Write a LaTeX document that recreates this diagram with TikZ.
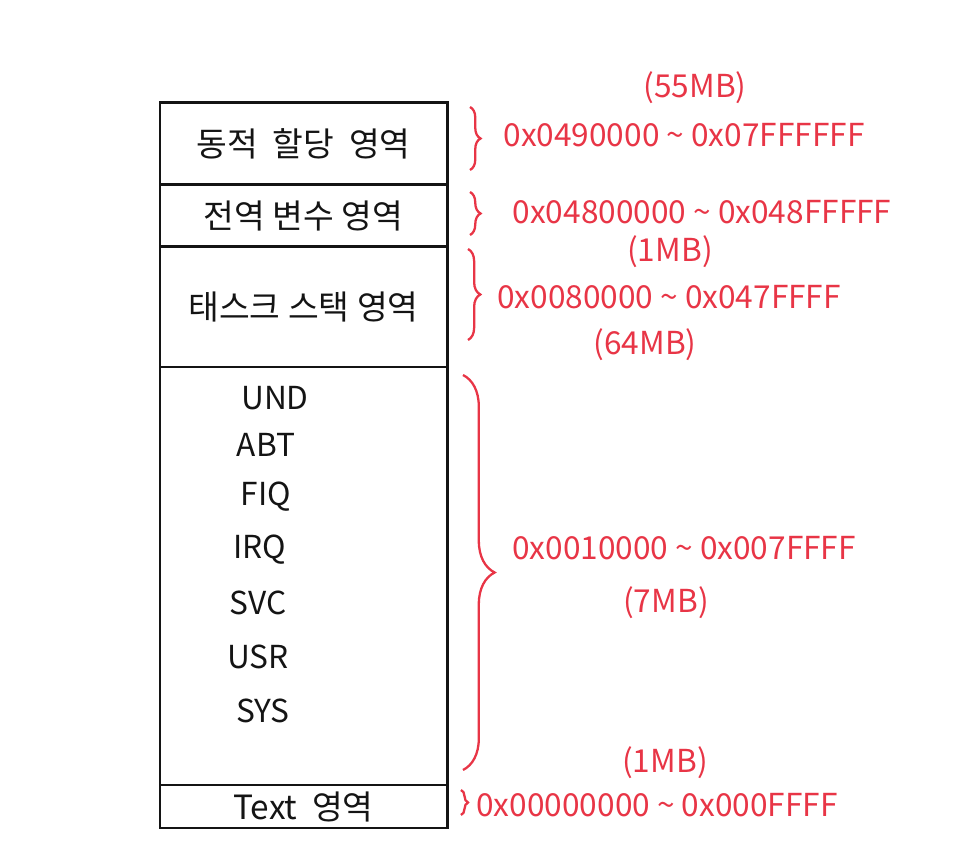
\documentclass[tikz,border=0pt]{standalone}
\usepackage{fontspec}
\setmainfont{Noto Sans CJK KR}
\usetikzlibrary{positioning,calc,decorations.pathreplacing}
\definecolor{ink}{HTML}{141414}
\definecolor{pen}{HTML}{E83546}
\tikzset{
  region/.style={draw=ink, line width=1.7pt, minimum width=5.74cm, outer sep=0pt,
                 inner sep=0pt, text=ink, font=\fontsize{19}{22}\selectfont},
  modelabel/.style={text=ink, inner sep=1pt, font=\fontsize{18}{20}\selectfont},
  addr/.style={text=pen, inner sep=1pt, font=\fontsize{18}{20}\selectfont},
  curly/.style={draw=pen, line width=1.3pt, decorate,
                decoration={brace, amplitude=#1}},
  curly/.default=5pt}

\begin{document}
\begin{tikzpicture}
    \useasboundingbox (0,0) rectangle (19.2,17.06);
    % memory map, top to bottom
    \node[region, minimum height=1.64cm] (heap) at (6.07,14.18) {동적\ \ 할당\ \ 영역};
    \node[region, minimum height=1.24cm, below=0pt of heap] (global) {전역\ 변수\ 영역};
    \node[region, minimum height=2.4cm, below=0pt of global] (stack) {태스크\ 스택\ 영역};
    \node[region, minimum height=8.36cm, below=0pt of stack] (modes) {};
    \node[region, minimum height=0.86cm, below=0pt of modes] (text) {Text\ \ 영역};
    % stacks per processor mode
    \foreach \m/\x/\y in {UND/5.5/9.1, ABT/5.32/8.16, FIQ/5.32/7.12, IRQ/5.2/6.06,
                          SVC/5.16/5.0, USR/5.16/3.92, SYS/5.26/2.84}
      \node[modelabel] (m\m) at (\x,\y) {\m};
    % braces
    \coordinate (b1a) at ($(heap.north east)+(0.46,-0.08)$);
    \coordinate (b1b) at ($(heap.south east)+(0.46,0.3)$);
    \coordinate (b2a) at ($(global.north east)+(0.46,-0.14)$);
    \coordinate (b2b) at ($(global.south east)+(0.46,0.24)$);
    \coordinate (b3a) at ($(stack.north east)+(0.42,-0.04)$);
    \coordinate (b3b) at ($(stack.south east)+(0.42,0.54)$);
    \coordinate (b4a) at ($(modes.north east)+(0.32,-0.16)$);
    \coordinate (b4b) at ($(modes.south east)+(0.32,0.3)$);
    \coordinate (b5a) at ($(text.north east)+(0.28,-0.1)$);
    \coordinate (b5b) at ($(text.south east)+(0.28,0.26)$);
    \draw[curly=6pt] (b1a) -- (b1b);
    \draw[curly=6pt] (b2a) -- (b2b);
    \draw[curly=7pt] (b3a) -- (b3b);
    \draw[curly=18pt] (b4a) -- (b4b);
    \draw[curly=4pt] (b5a) -- (b5b);
    % addresses and sizes
    \node[addr] (s1) at (13.9,15.3) {(55MB)};
    \node[addr] (a1) at (13.68,14.36) {0x0490000 \textasciitilde\ 0x07FFFFFF};
    \node[addr] (a2) at (14.04,12.82) {0x04800000 \textasciitilde\ 0x048FFFFF};
    \node[addr] (s2) at (13.4,12.02) {(1MB)};
    \node[addr] (a3) at (13.38,11.12) {0x0080000 \textasciitilde\ 0x047FFFF};
    \node[addr] (s3) at (12.9,10.16) {(64MB)};
    \node[addr] (a4) at (13.68,6.1) {0x0010000 \textasciitilde\ 0x007FFFF};
    \node[addr] (s4) at (13.32,5.0) {(7MB)};
    \node[addr] (s5) at (13.3,1.8) {(1MB)};
    \node[addr] (a5) at (13.14,0.96) {0x00000000 \textasciitilde\ 0x000FFFF};
\end{tikzpicture}
\end{document}
